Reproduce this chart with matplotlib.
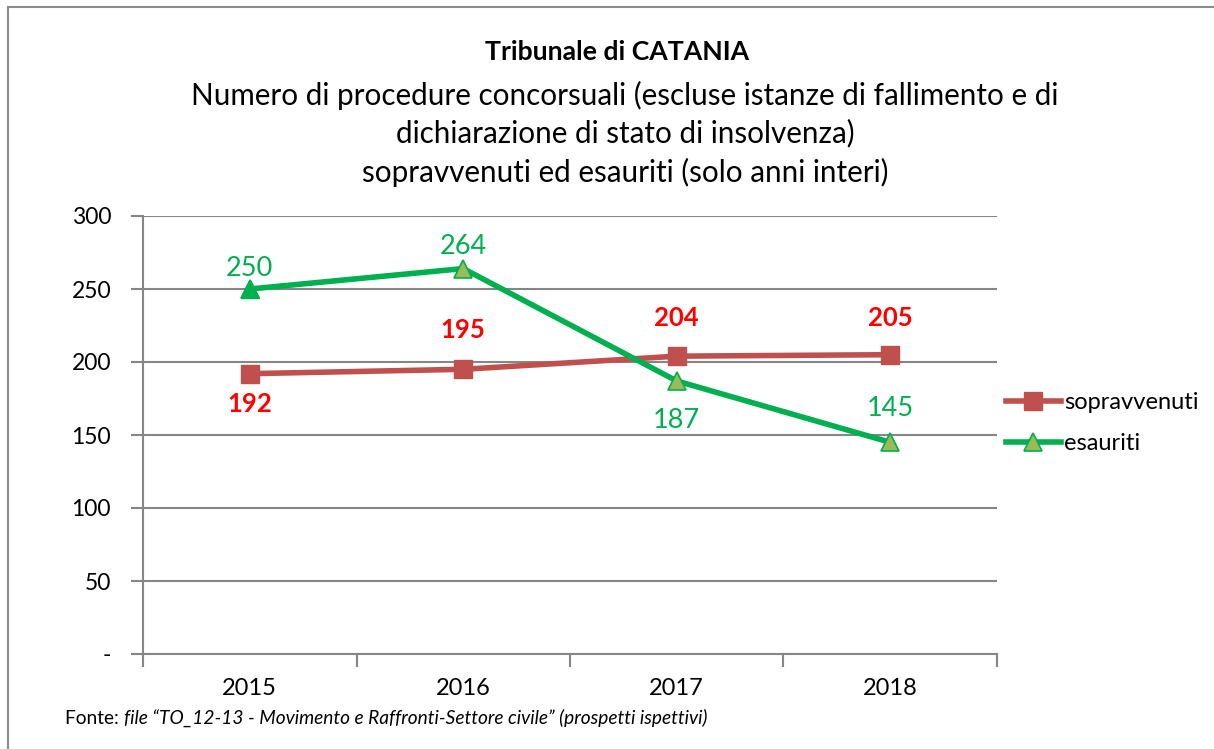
import matplotlib.pyplot as plt
from matplotlib.patches import Rectangle

plt.rcParams['font.family'] = ['Lato', 'DejaVu Sans']

anni = ['2015', '2016', '2017', '2018']
sopravvenuti = [192, 195, 204, 205]
esauriti = [250, 264, 187, 145]
y_ticks = [0, 50, 100, 150, 200, 250, 300]
y_labels = ['-', '50', '100', '150', '200', '250', '300']

# label offsets in pixels (vertical)
off_sop = [-30, 39, 38, 37]
off_esa = [20, 22, -40, 34]

rosso = '#C0504D'
verde = '#00B050'
oliva = '#9BBB59'
grigio = '#868686'

fig = plt.figure(figsize=(12.14, 7.49), dpi=100)
fig.patches.append(Rectangle((8 / 1214, -0.1), 1.2, 1.1 - 6.5 / 749, transform=fig.transFigure,
                             fill=False, edgecolor='#8C8C8C', linewidth=1.5))

ax = fig.add_axes([143 / 1214, 1 - 654 / 749, (997 - 143) / 1214, (654 - 216) / 749])
x = list(range(len(anni)))

ax.plot(x, sopravvenuti, color=rosso, linewidth=4, marker='s', markersize=13,
        markerfacecolor=rosso, markeredgecolor=rosso, label='sopravvenuti', zorder=3)
ax.plot(x, esauriti, color=verde, linewidth=4, marker='^', markersize=13,
        markerfacecolor=oliva, markeredgecolor=verde, markeredgewidth=1.2, label='esauriti', zorder=4)
ax.plot(x[0], esauriti[0], linestyle='none', marker='^', markersize=13,
        markerfacecolor=verde, markeredgecolor=verde, zorder=5)

for i in x:
    ax.annotate(str(sopravvenuti[i]), (i, sopravvenuti[i]), xytext=(0, off_sop[i]),
                textcoords='offset pixels', ha='center', va='center', color='#FF0000',
                fontsize=18.5, fontweight='bold')
    ax.annotate(str(esauriti[i]), (i, esauriti[i]), xytext=(0, off_esa[i]),
                textcoords='offset pixels', ha='center', va='center', color=verde,
                fontsize=19.5)

ax.set_xlim(-0.5, 3.5)
ax.set_ylim(0, 300)
ax.set_yticks(y_ticks)
ax.set_yticklabels(y_labels, fontsize=16.5)
ax.set_xticks([i - 0.5 for i in range(5)], minor=False)
ax.set_xticklabels([])
ax.set_xticks(x, minor=True)
ax.set_xticklabels(anni, minor=True, fontsize=17)
ax.tick_params(axis='x', which='minor', length=0, pad=17)
ax.tick_params(axis='x', which='major', length=9, width=1.5, color=grigio, direction='out')
ax.tick_params(axis='y', length=9, width=1.5, color=grigio, direction='out', pad=14)
ax.grid(axis='y', color=grigio, linewidth=1.5)
ax.set_axisbelow(True)
for s in ['top', 'right']:
    ax.spines[s].set_visible(False)
for s in ['left', 'bottom']:
    ax.spines[s].set_color(grigio)
    ax.spines[s].set_linewidth(1.5)

fig.legend(loc='center left', bbox_to_anchor=(985 / 1214, 1 - 423 / 749), frameon=False,
           fontsize=17, handlelength=2.3, handletextpad=0.15, labelspacing=0.85)

fig.text(617 / 1214, 1 - 52 / 749, 'Tribunale di CATANIA', ha='center', va='center',
         fontsize=19.2, fontweight='bold')
fig.text(625 / 1214, 1 - 95 / 749, 'Numero di procedure concorsuali (escluse istanze di fallimento e di',
         ha='center', va='center', fontsize=21.3)
fig.text(625 / 1214, 1 - 133 / 749, 'dichiarazione di stato di insolvenza)',
         ha='center', va='center', fontsize=21.3)
fig.text(625 / 1214, 1 - 172 / 749, 'sopravvenuti ed esauriti (solo anni interi)',
         ha='center', va='center', fontsize=21.3)

t = fig.text(65 / 1214, 1 - 718 / 749, 'Fonte: ', ha='left', va='center', fontsize=13.8)
fig.canvas.draw()
bb = t.get_window_extent()
fig.text(bb.x1 / 1214, 1 - 718 / 749,
         'file \u201cTO_12-13 - Movimento e Raffronti-Settore civile\u201d (prospetti ispettivi)',
         ha='left', va='center', fontsize=13.8, style='italic')

fig.savefig('out.png', dpi=100)
